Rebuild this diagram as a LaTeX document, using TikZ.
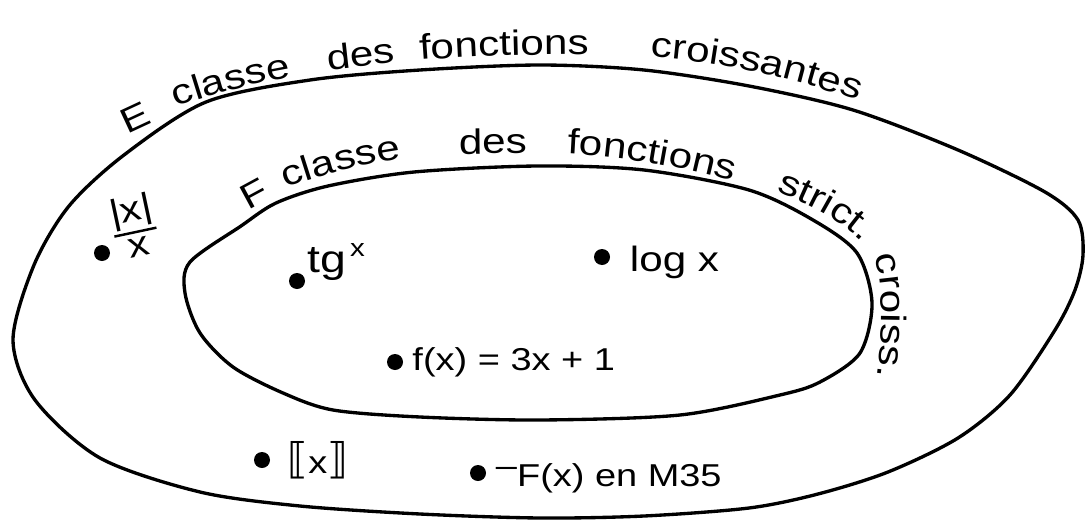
\documentclass[tikz,border=0pt]{standalone}
\usepackage{fontspec}
\setmainfont{Liberation Sans}[FakeStretch=1.2]
\newfontfamily\bracketfont{DejaVu Sans}
\usetikzlibrary{positioning,decorations.text}

\newcommand\curvefont{\fontsize{20pt}{22pt}\selectfont}
\newcommand\dotfont{\fontsize{18pt}{20pt}\selectfont}

\tikzset{
  setline/.style={line width=1.9pt, line join=round},
  curveword/.style={decorate, decoration={text along path, text={|\curvefont|#1}}},
  elem/.style={circle, fill=black, inner sep=0pt, minimum size=0.32cm},
  elemlbl/.style={font=\dotfont, inner sep=1pt},
}

\begin{document}
\begin{tikzpicture}[x=0.02cm, y=-0.02cm]
  \useasboundingbox (0,0) rectangle (1085,521);

  % E : fonctions croissantes
  \draw[setline] plot[smooth cycle] coordinates {(34,265) (69,206) (124,155) (206,102) (310,80)
    (420,70) (540,65) (644,70) (749,86) (853,110) (958,150) (1045,192) (1078,220) (1083,255)
    (1075,290) (1055,330) (1010,395) (958,438) (888,472) (818,494) (749,508) (644,516)
    (540,518) (420,514) (300,506) (200,492) (100,458) (35,400) (13,340)};
  % F : fonctions strictement croissantes
  \draw[setline] plot[smooth cycle] coordinates {(190,262) (241,226) (276,203) (328,186)
    (414,172) (537,166) (644,170) (749,190) (813,220) (857,253) (872,303) (860,353)
    (820,382) (780,395) (680,415) (540,420) (420,417) (333,410) (283,393) (233,367)
    (200,333) (185,293)};

  % name of E, along the outer curve
  \path[curveword=E] (127,134) -- (170,114);
  \path[curveword=classe] (176,107) .. controls (220,92) and (265,80) .. (310,74);
  \path[curveword=des] (328,70) -- (400,62);
  \path[curveword=fonctions] (420,60) .. controls (490,55) and (570,53) .. (640,56);
  \path[curveword=croissantes] (650,57) .. controls (730,62) and (810,82) .. (890,112);

  % name of F, along the inner curve
  \path[curveword=F] (248,210) -- (285,190);
  \path[curveword=classe] (286,188) .. controls (320,176) and (360,164) .. (405,158);
  \path[curveword=des] (459,154) -- (540,153);
  \path[curveword=fonctions] (567,154) .. controls (630,157) and (690,168) .. (750,186);
  \path[curveword=strict.] (776,192) .. controls (808,203) and (846,222) .. (870,250);
  \path[curveword=croiss.] (874,256) .. controls (884,285) and (884,335) .. (872,410);

  % elements
  \node[elem] (absdot) at (102,253) {};
  \node[elemlbl, right=1pt of absdot, yshift=0.34cm, rotate=12] (abslbl)
    {\fontsize{20pt}{19pt}\selectfont\setlength\arrayrulewidth{1.4pt}%
     \begin{tabular}{@{}c@{}}|x|\\\hline x\end{tabular}};

  \node[elem] (tgdot) at (297,281) {};
  \node[elemlbl, right=0pt of tgdot, yshift=0.38cm] (tglbl)
    {\fontsize{22pt}{22pt}\selectfont tg\raisebox{0.4em}{\fontsize{14pt}{14pt}\selectfont\,x}};

  \node[elem] (logdot) at (602,257) {};
  \node[elemlbl, right=0.35cm of logdot, yshift=-0.1cm] (loglbl)
    {\fontsize{20pt}{20pt}\selectfont log x};

  \node[elem] (fdot) at (395,362) {};
  \node[elemlbl, right=4pt of fdot] (flbl) {f(x) = 3x + 1};

  \node[elem] (floordot) at (262,460) {};
  \node[elemlbl, right=0.3cm of floordot] (floorlbl)
    {{\bracketfont\fontsize{24pt}{24pt}\selectfont ⟦}x{\bracketfont\fontsize{24pt}{24pt}\selectfont ⟧}};

  \node[elem] (Fdot) at (478,473) {};
  \node[elemlbl, right=0.15cm of Fdot, yshift=-0.1cm] (Flbl) {\raisebox{0.3em}{–}F(x) en M35};
\end{tikzpicture}
\end{document}
